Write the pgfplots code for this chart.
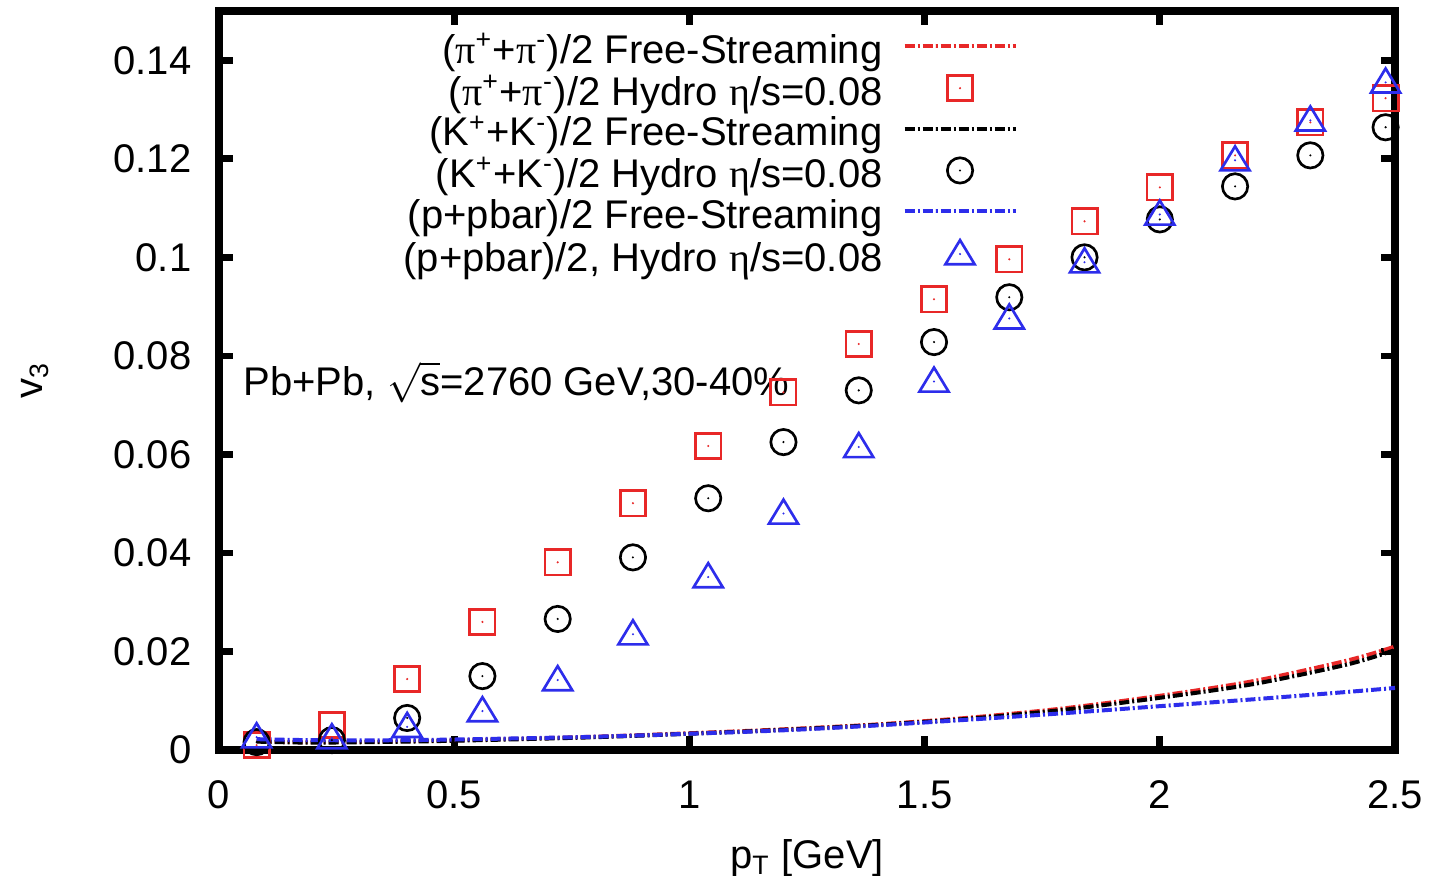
\documentclass[border=0pt]{standalone}
\usepackage{fontspec}
\setmainfont{Liberation Sans}
\newfontfamily\symf{Liberation Serif}
\usepackage{pgfplots}
\pgfplotsset{compat=1.18}

\definecolor{pired}{RGB}{232,40,40}
\definecolor{pblue}{RGB}{45,45,235}

\newcommand{\gpi}{{\symf π}}
\newcommand{\geta}{{\symf η}}

% gnuplot-style open marks with a dot in the centre
\pgfdeclareplotmark{sqdot}{%
  \pgfpathrectangle{\pgfpoint{-\pgfplotmarksize}{-\pgfplotmarksize}}{\pgfpoint{2\pgfplotmarksize}{2\pgfplotmarksize}}%
  \pgfusepathqstroke
  \pgfpathcircle{\pgfpointorigin}{0.35pt}\pgfusepathqfill}
\pgfdeclareplotmark{odot}{%
  \pgfpathcircle{\pgfpointorigin}{\pgfplotmarksize}\pgfusepathqstroke
  \pgfpathcircle{\pgfpointorigin}{0.35pt}\pgfusepathqfill}
\pgfdeclareplotmark{tridot}{%
  \pgfpathmoveto{\pgfpoint{0pt}{1.1\pgfplotmarksize}}%
  \pgfpathlineto{\pgfpoint{-1.15\pgfplotmarksize}{-0.8\pgfplotmarksize}}%
  \pgfpathlineto{\pgfpoint{1.15\pgfplotmarksize}{-0.8\pgfplotmarksize}}%
  \pgfpathclose\pgfusepathqstroke
  \pgfpathcircle{\pgfpointorigin}{0.35pt}\pgfusepathqfill}

\tikzset{fsline/.style={line width=1.2pt, dash pattern=on 3pt off 0.9pt on 0.6pt off 0.9pt}}

\begin{document}
\fontsize{12}{14.4}\selectfont
\begin{tikzpicture}
\begin{axis}[
  scale only axis, width=352.8pt, height=221.7pt,
  xmin=0, xmax=2.5, ymin=0, ymax=0.15,
  xtick={0,0.5,1,1.5,2,2.5},
  ytick={0,0.02,0.04,0.06,0.08,0.1,0.12,0.14},
  scaled y ticks=false,
  /pgf/number format/assume math mode=true,
  yticklabel style={/pgf/number format/fixed, /pgf/number format/precision=2,
    inner sep=0pt, anchor=east, xshift=-8.1pt},
  xticklabel style={/pgf/number format/fixed, inner sep=0pt, anchor=north, yshift=-9pt},
  axis line style={line width=2.4pt},
  tick align=inside,
  major tick length=4.2pt,
  major tick style={line width=2pt, black},
  every axis x label/.style={at={(axis description cs:0.5,0)}, anchor=base, yshift=-35.4pt},
  every axis y label/.style={at={(axis description cs:0,0.5)}, xshift=-53pt, rotate=90, anchor=base},
  xlabel={p\textsubscript{T} [GeV]},
  ylabel={v\textsubscript{3}},
  legend plot pos=right,
  legend cell align=right,
  legend image code/.code={\draw[mark repeat=2, mark phase=2, yshift=2.6pt, #1] plot coordinates {(0pt,0pt) (16.65pt,0pt) (33.3pt,0pt)};},
  legend style={draw=none, fill=none, at={(0.6796,0.9687)}, anchor=north east,
    inner sep=0pt, row sep=0pt, column sep=6pt,
    nodes={inner sep=0pt, text height=8.6pt, text depth=3.6pt}},
  mark size=3.8pt,
]
% free-streaming curves
\addplot[pired, fsline, smooth] coordinates {
  (0.08,0.0018) (0.2,0.0016) (0.4,0.0018) (0.6,0.0022) (0.8,0.0027) (1.0,0.0034)
  (1.2,0.0042) (1.4,0.0052) (1.6,0.0066) (1.8,0.0085) (2.0,0.0110) (2.2,0.0140)
  (2.4,0.0182) (2.5,0.0210)};
\addlegendentry{(\gpi\textsuperscript{+}+\gpi\textsuperscript{-})/2 Free-Streaming}
\addplot[pired, only marks, mark=sqdot, mark options={line width=0.8pt}] coordinates {
  (0.08,0.0010) (0.24,0.0051) (0.40,0.0144) (0.56,0.0260) (0.72,0.0381) (0.88,0.0501)
  (1.04,0.0617) (1.20,0.0726) (1.36,0.0824) (1.52,0.0915) (1.68,0.0996) (1.84,0.1073)
  (2.00,0.1142) (2.16,0.1207) (2.32,0.1274) (2.48,0.1323)};
\addlegendentry{(\gpi\textsuperscript{+}+\gpi\textsuperscript{-})/2 Hydro \geta/s=0.08}
\addplot[black, fsline, smooth] coordinates {
  (0.08,0.0017) (0.2,0.0015) (0.4,0.0017) (0.6,0.0021) (0.8,0.0026) (1.0,0.0033)
  (1.2,0.0041) (1.4,0.0051) (1.6,0.0064) (1.8,0.0082) (2.0,0.0106) (2.2,0.0134)
  (2.4,0.0174) (2.5,0.0203)};
\addlegendentry{(K\textsuperscript{+}+K\textsuperscript{-})/2 Free-Streaming}
\addplot[black, only marks, mark=odot, mark options={line width=0.8pt}] coordinates {
  (0.08,0.0016) (0.24,0.0020) (0.40,0.0065) (0.56,0.0150) (0.72,0.0266) (0.88,0.0391)
  (1.04,0.0511) (1.20,0.0625) (1.36,0.0730) (1.52,0.0828) (1.68,0.0919) (1.84,0.1000)
  (2.00,0.1077) (2.16,0.1144) (2.32,0.1207) (2.48,0.1264)};
\addlegendentry{(K\textsuperscript{+}+K\textsuperscript{-})/2 Hydro \geta/s=0.08}
\addplot[pblue, fsline, smooth] coordinates {
  (0.08,0.0022) (0.2,0.0020) (0.4,0.0020) (0.6,0.0023) (0.8,0.0027) (1.0,0.0033)
  (1.2,0.0040) (1.4,0.0050) (1.6,0.0062) (1.8,0.0075) (2.0,0.0089) (2.2,0.0103)
  (2.4,0.0118) (2.5,0.0126)};
\addlegendentry{(p+pbar)/2 Free-Streaming}
\addplot[pblue, only marks, mark=tridot, mark options={line width=0.8pt}] coordinates {
  (0.08,0.0026) (0.24,0.0024) (0.40,0.0047) (0.56,0.0079) (0.72,0.0142) (0.88,0.0235)
  (1.04,0.0351) (1.20,0.0480) (1.36,0.0615) (1.52,0.0748) (1.68,0.0876) (1.84,0.0990)
  (2.00,0.1087) (2.16,0.1197) (2.32,0.1278) (2.48,0.1355)};
\addlegendentry{(p+pbar)/2, Hydro \geta/s=0.08}
\node[anchor=base west, inner sep=0pt] at (axis cs:0.051,0.072)
  {Pb+Pb, $\sqrt{\mbox{s}}$=2760 GeV,30-40\%};
\end{axis}
\pgfresetboundingbox
\useasboundingbox ([shift={(-65.7pt,-37.5pt)}]current axis.south west)
  rectangle ([shift={(11.7pt,3.3pt)}]current axis.north east);
\end{tikzpicture}
\end{document}
